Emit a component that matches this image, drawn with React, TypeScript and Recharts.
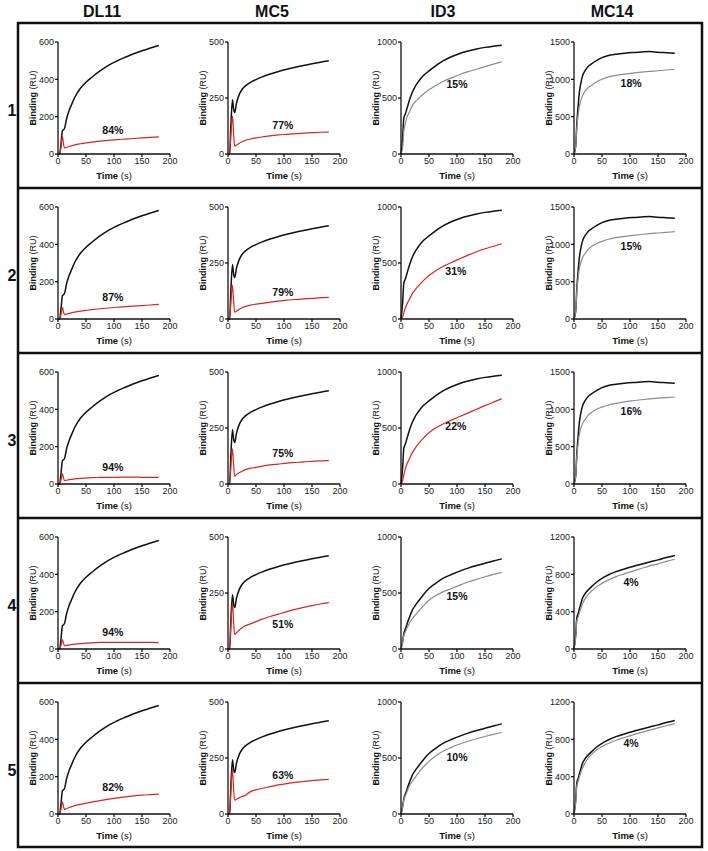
import { LineChart, Line, XAxis, YAxis, ReferenceDot } from 'recharts'

const FONT = '"Liberation Sans", Arial, sans-serif'

const antibodies = ['DL11', 'MC5', 'ID3', 'MC14']
const rowNames = ['1', '2', '3', '4', '5']
const timeTicks = [0, 50, 100, 150, 200]

// sampling times (s) shared by every sensorgram
const time = [0, 3, 5, 8, 10, 12, 15, 20, 25, 30, 40, 50, 60, 75, 90, 105, 120, 135, 150, 165, 180]

// DL11
const dl11Ref = [0, 0, 45, 125, 130, 140, 185, 234, 270, 304, 352, 384, 410, 445, 475, 498, 518, 537, 553, 568, 582]
const dl11Test1 = [0, 0, 30, 95, 50, 32, 35, 40, 45, 49, 55, 60, 64, 69, 73, 77, 80, 83, 86, 89, 92]
const dl11Test2 = [0, 0, 20, 62, 35, 23, 26, 30, 34, 37, 42, 46, 50, 55, 59, 63, 66, 69, 72, 75, 78]
const dl11Test3 = [0, 0, 18, 54, 30, 18, 20, 23, 25, 27, 30, 32, 34, 35, 36, 36, 37, 37, 36, 36, 35]
const dl11Test4 = [0, 0, 16, 50, 28, 18, 19, 22, 24, 26, 29, 31, 33, 35, 36, 36, 36, 36, 35, 35, 34]
const dl11Test5 = [0, 0, 22, 64, 38, 24, 28, 35, 40, 45, 52, 58, 64, 72, 80, 86, 92, 97, 101, 104, 107]

// MC5
const mc5Ref = [0, 0, 120, 242, 200, 185, 225, 265, 288, 302, 320, 332, 343, 357, 368, 378, 387, 395, 403, 410, 416]
const mc5Test1 = [0, 0, 80, 170, 90, 35, 40, 48, 55, 60, 67, 72, 76, 81, 85, 88, 91, 93, 95, 97, 98]
const mc5Test2 = [0, 0, 70, 150, 80, 30, 35, 43, 50, 55, 62, 66, 70, 75, 80, 84, 87, 90, 92, 95, 97]
const mc5Test3 = [0, 0, 75, 157, 85, 35, 42, 50, 57, 63, 70, 74, 79, 85, 89, 93, 96, 99, 101, 103, 104]
const mc5Test4 = [0, 0, 100, 207, 120, 65, 72, 85, 95, 103, 112, 122, 132, 145, 156, 167, 177, 186, 194, 201, 207]
const mc5Test5 = [0, 0, 100, 200, 110, 62, 65, 72, 78, 82, 100, 108, 114, 122, 130, 136, 141, 145, 149, 152, 155]

// ID3
const id3RefA = [0, 150, 320, 360, 395, 430, 480, 549, 600, 638, 700, 742, 780, 831, 868, 898, 920, 938, 952, 963, 972]
const id3RefB = [0, 70, 135, 180, 210, 240, 280, 345, 385, 420, 485, 540, 580, 630, 665, 695, 722, 745, 765, 786, 805]
const id3Test1 = [0, 60, 200, 275, 320, 345, 375, 430, 465, 490, 535, 573, 605, 647, 680, 710, 735, 757, 780, 802, 822]
const id3Test2 = [0, 20, 55, 100, 125, 148, 175, 224, 260, 290, 343, 388, 425, 469, 505, 538, 570, 600, 627, 650, 672]
const id3Test3 = [0, 30, 80, 140, 170, 195, 225, 278, 318, 352, 410, 457, 495, 535, 570, 603, 635, 667, 700, 731, 761]
const id3Test4 = [0, 60, 120, 155, 180, 200, 230, 270, 300, 330, 385, 435, 470, 510, 540, 570, 598, 622, 645, 666, 685]
const id3Test5 = [0, 65, 125, 165, 190, 215, 250, 290, 325, 360, 420, 470, 512, 560, 595, 625, 650, 672, 692, 711, 728]

// MC14
const mc14RefA = [0, 100, 400, 700, 850, 940, 1040, 1120, 1170, 1200, 1250, 1290, 1315, 1335, 1350, 1360, 1366, 1372, 1362, 1356, 1350]
const mc14RefB = [0, 150, 330, 390, 440, 480, 540, 595, 630, 660, 715, 757, 790, 829, 858, 884, 908, 932, 955, 980, 1002]
const mc14Test1 = [0, 100, 350, 560, 650, 710, 775, 845, 885, 912, 965, 1001, 1030, 1054, 1070, 1084, 1096, 1106, 1115, 1125, 1135]
const mc14Test2 = [0, 100, 370, 590, 690, 750, 820, 880, 930, 965, 1010, 1040, 1065, 1090, 1107, 1120, 1132, 1143, 1152, 1161, 1170]
const mc14Test3 = [0, 100, 360, 580, 680, 740, 805, 865, 915, 950, 1000, 1030, 1055, 1080, 1100, 1115, 1128, 1140, 1150, 1158, 1165]
const mc14Test4 = [0, 120, 300, 350, 396, 430, 480, 540, 580, 613, 665, 703, 735, 775, 805, 835, 862, 890, 912, 938, 962]
const mc14Test5 = [0, 120, 300, 360, 405, 440, 490, 550, 595, 630, 685, 722, 752, 790, 820, 848, 874, 898, 922, 946, 968]

// percent competition labels and where they sit (data coords)
const dl11Pct = ['84%', '87%', '94%', '94%', '82%']
const dl11PctY = [127, 117, 90, 90, 143]
const mc5Pct = ['77%', '79%', '75%', '51%', '63%']
const mc5PctY = [128, 119, 137, 110, 172]
const id3Pct = ['15%', '31%', '22%', '15%', '10%']
const id3PctY = [619, 425, 515, 469, 504]
const mc14Pct = ['18%', '15%', '16%', '4%', '4%']
const mc14PctY = [942, 969, 969, 712, 754]

const RED = '#d9251d'
const GREY = '#8c8c8c'

const toPoints = (vals: number[]) => time.map((t, i) => ({ t, v: vals[i] }))

const rowTops = [23, 188, 353, 518, 683]
const axisXs = [58, 228, 401, 574]
const headerXs = [102, 272, 443, 612]

const W = 175
const H = 165

type PanelDef = {
  ref: number[]
  test: number[]
  color: string
  yTicks: number[]
  pct: string
  pctX: number
  pctY: number
}

const panels: PanelDef[][] = [
  [dl11Test1, dl11Test2, dl11Test3, dl11Test4, dl11Test5].map((test, i) => ({
    ref: dl11Ref, test, color: RED, yTicks: [0, 200, 400, 600], pct: dl11Pct[i], pctX: 98, pctY: dl11PctY[i],
  })),
  [mc5Test1, mc5Test2, mc5Test3, mc5Test4, mc5Test5].map((test, i) => ({
    ref: mc5Ref, test, color: RED, yTicks: [0, 250, 500], pct: mc5Pct[i], pctX: 98, pctY: mc5PctY[i],
  })),
  [id3Test1, id3Test2, id3Test3, id3Test4, id3Test5].map((test, i) => ({
    ref: i < 3 ? id3RefA : id3RefB,
    test,
    color: i === 1 || i === 2 ? RED : GREY,
    yTicks: [0, 500, 1000],
    pct: id3Pct[i],
    pctX: i === 1 || i === 2 ? 98 : 100,
    pctY: id3PctY[i],
  })),
  [mc14Test1, mc14Test2, mc14Test3, mc14Test4, mc14Test5].map((test, i) => ({
    ref: i < 3 ? mc14RefA : mc14RefB,
    test,
    color: GREY,
    yTicks: i < 3 ? [0, 500, 1000, 1500] : [0, 400, 800, 1200],
    pct: mc14Pct[i],
    pctX: 102,
    pctY: mc14PctY[i],
  })),
]

const tickStyle = { fontSize: 9, fill: '#222', fontFamily: FONT }

const BindingLabel = (props: any) => {
  const vb = props.viewBox || {}
  const cx = vb.x + vb.width - 25
  const cy = vb.y + vb.height / 2
  return (
    <text
      x={cx}
      y={cy}
      transform={`rotate(-90 ${cx} ${cy})`}
      textAnchor="middle"
      dominantBaseline="central"
      fontSize={9}
      fill="#111"
      fontFamily={FONT}
    >
      <tspan fontWeight={700}>Binding</tspan>
      {' (RU)'}
    </text>
  )
}

const TimeLabel = (props: any) => {
  const vb = props.viewBox || {}
  const cx = vb.x + vb.width / 2
  const cy = vb.y + 21
  return (
    <text x={cx} y={cy} textAnchor="middle" dominantBaseline="central" fontSize={9.5} fill="#111" fontFamily={FONT}>
      <tspan fontWeight={700}>Time</tspan>
      {' (s)'}
    </text>
  )
}

const Panel = ({ p }: { p: PanelDef }) => {
  const yMax = p.yTicks[p.yTicks.length - 1]
  return (
    <LineChart width={W} height={H} margin={{ top: 19, right: 23, left: 0, bottom: 0 }}>
      <XAxis
        type="number"
        dataKey="t"
        domain={[0, 200]}
        ticks={timeTicks}
        height={34}
        tick={tickStyle}
        tickSize={3}
        tickMargin={1}
        stroke="#111"
        strokeWidth={1.3}
        label={(lp: any) => <TimeLabel {...lp} />}
      />
      <YAxis
        type="number"
        dataKey="v"
        domain={[0, yMax]}
        ticks={p.yTicks}
        width={40}
        tick={tickStyle}
        tickSize={3}
        tickMargin={1}
        stroke="#111"
        strokeWidth={1.3}
        label={(lp: any) => <BindingLabel {...lp} />}
      />
      <Line
        data={toPoints(p.ref)}
        dataKey="v"
        type="monotone"
        stroke="#111"
        strokeWidth={1.5}
        dot={false}
        isAnimationActive={false}
      />
      <Line
        data={toPoints(p.test)}
        dataKey="v"
        type="monotone"
        stroke={p.color}
        strokeWidth={1.2}
        dot={false}
        isAnimationActive={false}
      />
      <ReferenceDot
        x={p.pctX}
        y={p.pctY}
        r={0}
        fill="none"
        stroke="none"
        label={{ value: p.pct, position: 'center', fontSize: 10.5, fontWeight: 700, fill: '#111', fontFamily: FONT }}
      />
    </LineChart>
  )
}

export default function App() {
  return (
    <div style={{ position: 'absolute', left: 0, top: 0, width: 708, height: 851, background: '#fff', fontFamily: FONT }}>
      <svg width={708} height={851} style={{ position: 'absolute', left: 0, top: 0 }}>
        {antibodies.map((a, i) => (
          <text key={a} x={headerXs[i]} y={11} textAnchor="middle" dominantBaseline="central" fontSize={16} fontWeight={700} fill="#111">
            {a}
          </text>
        ))}
        {rowNames.map((r, i) => (
          <text key={r} x={12} y={rowTops[i] + 87} textAnchor="middle" dominantBaseline="central" fontSize={16} fontWeight={700} fill="#111">
            {r}
          </text>
        ))}
        <rect x={18} y={23} width={684} height={824} fill="none" stroke="#111" strokeWidth={2.5} />
        {rowTops.slice(1).map((y) => (
          <line key={y} x1={18} x2={702} y1={y} y2={y} stroke="#111" strokeWidth={2.5} />
        ))}
      </svg>
      {panels.map((col, c) =>
        col.map((p, r) => (
          <div key={`${c}-${r}`} style={{ position: 'absolute', left: axisXs[c] - 40, top: rowTops[r] }}>
            <Panel p={p} />
          </div>
        ))
      )}
    </div>
  )
}
